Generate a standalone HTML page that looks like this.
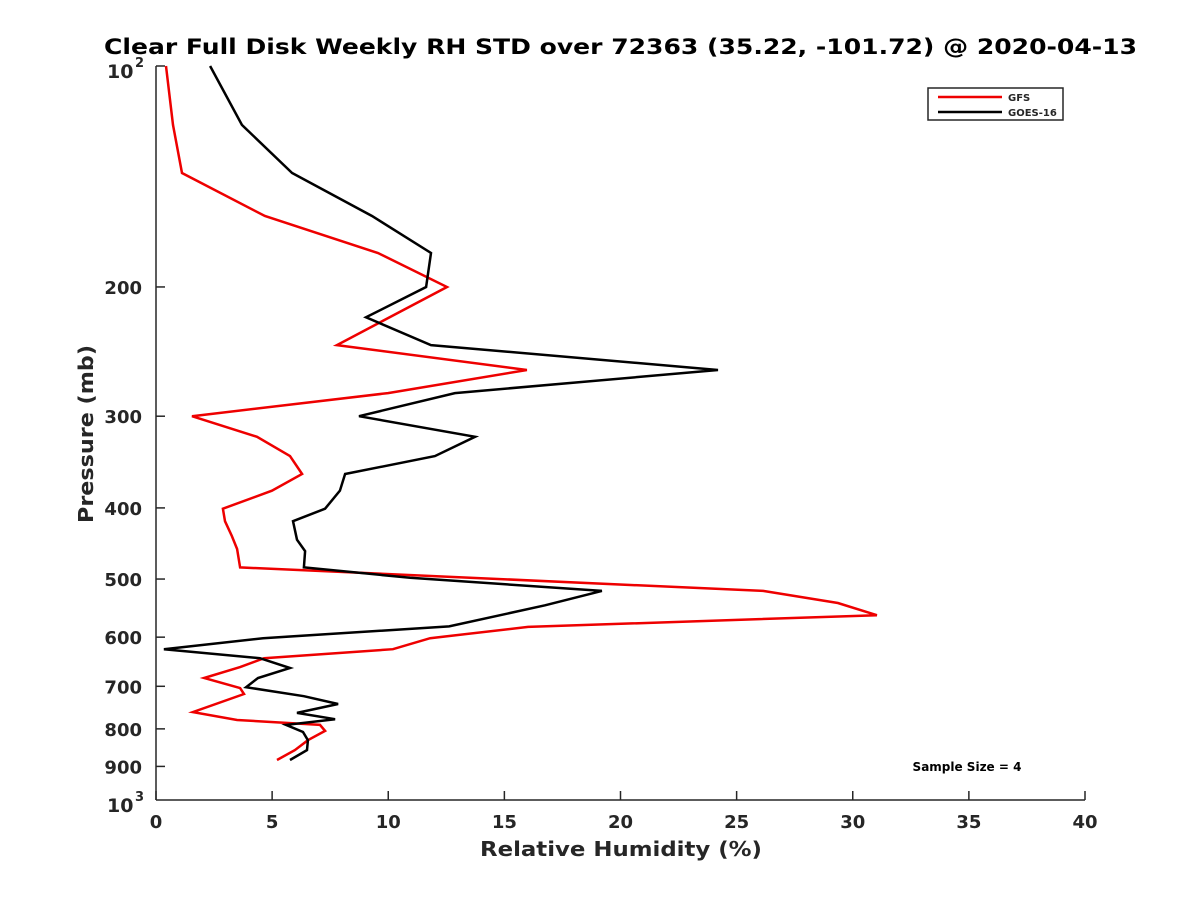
<!DOCTYPE html>
<html><head><meta charset="utf-8"><style>
body{margin:0;background:#fff;}
svg text{font-family:"DejaVu Sans","Liberation Sans",sans-serif;font-weight:bold;fill:#262626;}
</style></head><body>
<svg id="chart" width="1200" height="900" xmlns="http://www.w3.org/2000/svg">
<rect width="1200" height="900" fill="#fff"/>
<text x="104" y="54" textLength="1033" lengthAdjust="spacingAndGlyphs" font-size="21" style="fill:#000">Clear Full Disk Weekly RH STD over 72363 (35.22, -101.72) @ 2020-04-13</text>
<g id="axes"></g>
<g id="series"></g>
<text x="480" y="856" textLength="282" lengthAdjust="spacingAndGlyphs" font-size="20">Relative Humidity (%)</text>
<text transform="translate(93,434) rotate(-90)" text-anchor="middle" font-size="20" textLength="178" lengthAdjust="spacingAndGlyphs">Pressure (mb)</text>
<g>
<rect x="928" y="88" width="135" height="32" fill="#fff" stroke="#262626" stroke-width="1.5"/>
<line x1="938" y1="97" x2="1002" y2="97" stroke="#e00" stroke-width="2.5"/>
<text x="1008" y="101" font-size="10">GFS</text>
<line x1="938" y1="112" x2="1002" y2="112" stroke="#000" stroke-width="2.5"/>
<text x="1008" y="116" font-size="10">GOES-16</text>
</g>
<text x="967" y="771" text-anchor="middle" font-size="12" style="fill:#000">Sample Size = 4</text>
</svg>
<script>
const pressGFS=[100,120.3,139.9,160.1,179.8,200,240,259.5,279,300,320,340,359.6,379,401,417,437,455,482,519,539,560,581,602,623,641,659,682,704,717,759,778,790,805,829,855,882];
const valGFS=[0.43,0.73,1.12,4.69,9.56,12.53,7.79,15.97,9.99,1.55,4.35,5.77,6.29,4.99,2.88,2.97,3.27,3.49,3.62,26.14,29.36,31.04,16.02,11.8,10.2,4.65,3.62,2.07,3.62,3.79,1.59,3.49,7.06,7.28,6.54,5.98,5.21];
const pressGOES=[100,120.3,139.9,160.1,179.8,200,220,240,259.5,279,300,320,340,359.6,379,401,417,442,458,482,498,519,543,580,602,623,641,661,682,702,722,740,761,776,790,808,829,855,882];
const valGOES=[2.33,3.70,5.86,9.30,11.84,11.63,9.04,11.84,24.2,12.87,8.74,13.74,12.01,8.14,7.92,7.28,5.9,6.07,6.42,6.37,10.94,19.2,16.75,12.62,4.61,0.34,4.48,5.77,4.39,3.88,6.37,7.84,6.07,7.71,5.6,6.33,6.54,6.5,5.77];
const xTicks=[0,5,10,15,20,25,30,35,40];
const yTicks=[200,300,400,500,600,700,800,900];
const NS='http://www.w3.org/2000/svg';
const X0=156,X1=1085,Y0=66,Y1=800;
function xs(v){return X0+(v-0)/(40-0)*(X1-X0);}
function ys(p){return Y0+Math.log10(p/100)*(Y1-Y0);}
function mk(t,a,parent){const e=document.createElementNS(NS,t);for(const k in a)e.setAttribute(k,a[k]);parent.appendChild(e);return e;}
const ax=document.getElementById('axes');
let l=mk('line',{x1:X0,y1:Y0,x2:X0,y2:Y1,stroke:'#262626','stroke-width':1.5},ax);


l=mk('line',{x1:X0,y1:Y1,x2:X1,y2:Y1,stroke:'#262626','stroke-width':1.5},ax);


mk('line',{x1:X0,y1:Y0,x2:X0+9,y2:Y0,stroke:'#262626','stroke-width':1.5},ax);
xTicks.forEach(v=>{
  mk('line',{x1:xs(v),y1:Y1,x2:xs(v),y2:Y1-9,stroke:'#262626','stroke-width':1.5},ax);
  const t=mk('text',{x:xs(v),y:Y1+28,'text-anchor':'middle','font-size':18},ax);
  t.textContent=v;
  
  
});
yTicks.forEach(p=>{
  mk('line',{x1:X0,y1:ys(p),x2:X0+9,y2:ys(p),stroke:'#262626','stroke-width':1.5},ax);
  const t=mk('text',{x:X0-14,y:ys(p)+7,'text-anchor':'end','font-size':18},ax);
  t.textContent=p;
  
  
});
[[100,'2'],[1000,'3']].forEach(([p,e])=>{
  const t=mk('text',{x:107,y:ys(p)+12,'font-size':19},ax);
  t.textContent='10';
  
  
  const s=mk('text',{x:135,y:ys(p)+1,'font-size':13},ax);
  s.textContent=e;
});
const sg=document.getElementById('series');
function draw(ps,vs,col,name){
  const d=ps.map((p,i)=>(i?'L':'M')+xs(vs[i]).toFixed(1)+','+ys(p).toFixed(1)).join('');
  const e=mk('path',{d:d,fill:'none',stroke:col,'stroke-width':2.5,'stroke-linejoin':'miter'},sg);
  
  
}
draw(pressGFS,valGFS,'#e00','gfs-line');
draw(pressGOES,valGOES,'#000','goes16-line');
</script>
</body></html>
